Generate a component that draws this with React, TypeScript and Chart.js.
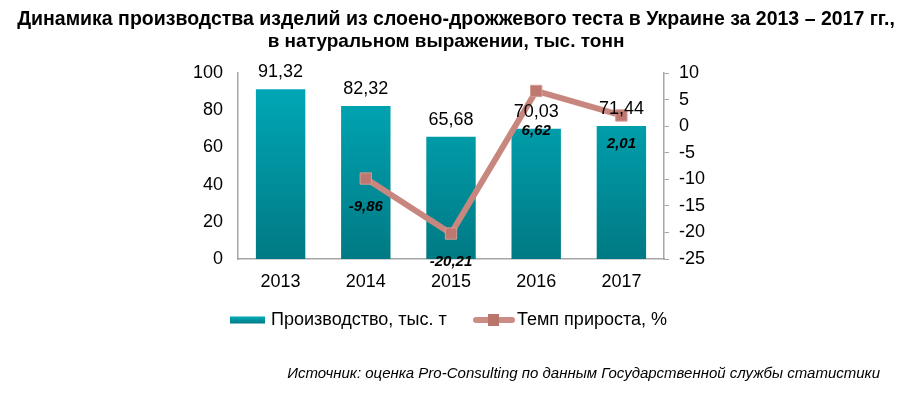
import React, { useEffect, useRef } from "react";
import { Chart, registerables } from "chart.js";
Chart.register(...registerables);

const years = ["2013", "2014", "2015", "2016", "2017"];
const production = [91.32, 82.32, 65.68, 70.03, 71.44];
const growth: (number | null)[] = [null, -9.86, -20.21, 6.62, 2.01];
const productionLabels = ["91,32", "82,32", "65,68", "70,03", "71,44"];
const growthLabels = ["", "-9,86", "-20,21", "6,62", "2,01"];
const titleLines = [
  "Динамика производства изделий из слоено-дрожжевого теста в Украине за 2013 – 2017 гг.,",
  "в натуральном выражении, тыс. тонн",
];
const legendNames = ["Производство, тыс. т", "Темп прироста, %"];
const sourceText = "Источник: оценка Pro-Consulting по данным Государственной службы статистики";

const FONT = "'Liberation Sans', Arial, sans-serif";

export default function App() {
  const ref = useRef<HTMLCanvasElement>(null);
  useEffect(() => {
    document.body.style.margin = "0";
    const canvas = ref.current!;
    const overlay = {
      id: "overlay",
      afterDraw(chart: any) {
        const ctx = chart.ctx;
        ctx.save();
        // title
        ctx.fillStyle = "#000";
        ctx.textAlign = "center";
        ctx.textBaseline = "middle";
        ctx.font = `bold 19.5px ${FONT}`;
        ctx.fillText(titleLines[0], 456, 20);
        ctx.font = `bold 19px ${FONT}`;
        ctx.fillText(titleLines[1], 446, 42);
        // bar labels
        const barMeta = chart.getDatasetMeta(0);
        ctx.font = `18px ${FONT}`;
        barMeta.data.forEach((b: any, i: number) => {
          ctx.fillText(productionLabels[i], b.x, b.y - 17);
        });
        // line labels
        const lineMeta = chart.getDatasetMeta(1);
        ctx.font = `italic bold 15px ${FONT}`;
        lineMeta.data.forEach((p: any, i: number) => {
          if (growth[i] == null) return;
          const off = i === 3 ? 40 : 28;
          ctx.fillText(growthLabels[i], p.x, p.y + off);
        });
        // legend
        const ly = 320;
        const grad = ctx.createLinearGradient(0, ly - 3, 0, ly + 3);
        grad.addColorStop(0, "#00A8B6");
        grad.addColorStop(1, "#007E88");
        ctx.fillStyle = grad;
        ctx.fillRect(230, ly - 3.5, 35, 7);
        ctx.fillStyle = "#000";
        ctx.font = `18px ${FONT}`;
        ctx.textAlign = "left";
        ctx.fillText(legendNames[0], 271, ly);
        ctx.strokeStyle = "#CB8C84";
        ctx.lineWidth = 6;
        ctx.lineCap = "round";
        ctx.beginPath();
        ctx.moveTo(476, ly);
        ctx.lineTo(512, ly);
        ctx.stroke();
        ctx.fillStyle = "#B9746B";
        ctx.fillRect(488, ly - 6, 11, 12);
        ctx.fillStyle = "#000";
        ctx.fillText(legendNames[1], 517, ly);
        // source
        ctx.font = `italic 15px ${FONT}`;
        ctx.textAlign = "right";
        ctx.fillText(sourceText, 880, 374);
        ctx.restore();
      },
    };
    const chart = new Chart(canvas, {
      type: "bar",
      data: {
        labels: years,
        datasets: [
          {
            type: "bar",
            label: legendNames[0],
            data: production,
            yAxisID: "y",
            order: 2,
            barPercentage: 0.58,
            categoryPercentage: 1,
            backgroundColor: (c: any) => {
              const ca = c.chart.chartArea;
              if (!ca) return "#009AA6";
              const g = c.chart.ctx.createLinearGradient(0, ca.top, 0, ca.bottom);
              g.addColorStop(0, "#00ABBA");
              g.addColorStop(1, "#007A84");
              return g;
            },
          },
          {
            type: "line",
            label: legendNames[1],
            data: growth,
            yAxisID: "y1",
            order: 1,
            borderColor: "#C8877E",
            borderWidth: 6,
            pointStyle: "rect",
            pointRadius: 8,
            pointBackgroundColor: "#BE786F",
            pointBorderColor: "#D49C93",
            pointBorderWidth: 1,
            tension: 0,
          },
        ],
      },
      options: {
        animation: false,
        responsive: false,
        layout: { padding: { top: 73, bottom: 99, left: 0, right: 0 } },
        plugins: { legend: { display: false }, title: { display: false }, tooltip: { enabled: false } },
        scales: {
          x: {
            grid: { display: false, drawTicks: false },
            border: { display: true, color: "#A6A6A6", width: 1.5 },
            ticks: { font: { family: FONT, size: 18 }, color: "#000", padding: 12 },
            afterFit: (s: any) => { s.height = 40; },
          },
          y: {
            position: "left",
            min: 0,
            max: 100,
            ticks: { stepSize: 20, font: { family: FONT, size: 18 }, color: "#000", padding: 15 },
            grid: { display: false, drawTicks: false },
            border: { display: true, color: "#A6A6A6", width: 1.5 },
            afterFit: (s: any) => { s.width = 238; },
          },
          y1: {
            position: "right",
            min: -25,
            max: 10,
            ticks: { stepSize: 5, font: { family: FONT, size: 18 }, color: "#000", padding: 10 },
            grid: { drawOnChartArea: false, drawTicks: true, tickLength: 5, color: "#A6A6A6" },
            border: { display: true, color: "#A6A6A6", width: 1.5 },
            afterFit: (s: any) => { s.width = 922 - 664; },
          },
        },
      },
      plugins: [overlay],
    } as any);
    return () => chart.destroy();
  }, []);
  return (
    <div style={{ width: 922, height: 398 }}>
      <canvas ref={ref} width={922} height={398} style={{ display: "block" }} />
    </div>
  );
}
